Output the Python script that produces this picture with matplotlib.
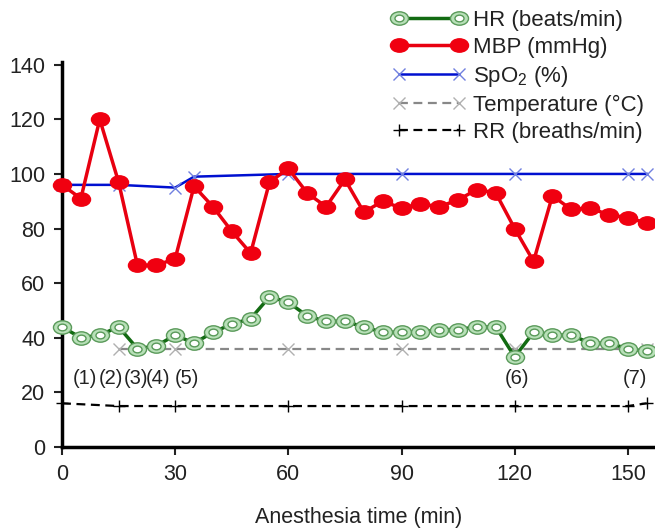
import matplotlib
matplotlib.use("Agg")
import matplotlib.pyplot as plt
from matplotlib.path import Path
from matplotlib.transforms import Affine2D
from matplotlib.legend_handler import HandlerTuple

plt.rcParams['font.family'] = ['Liberation Sans', 'DejaVu Sans']
plt.rcParams['mathtext.fontset'] = 'custom'
plt.rcParams['mathtext.rm'] = 'Liberation Sans'

# ---- data ----
time = [0, 5, 10, 15, 20, 25, 30, 35, 40, 45, 50, 55, 60, 65, 70, 75, 80, 85, 90,
        95, 100, 105, 110, 115, 120, 125, 130, 135, 140, 145, 150, 155]
hr = [44, 40, 41, 44, 36, 37, 41, 38, 42, 45, 47, 55, 53, 48, 46, 46, 44, 42, 42,
      42, 43, 43, 44, 44, 33, 42, 41, 41, 38, 38, 36, 35]
mbp = [96, 91, 120, 97, 66.5, 66.5, 69, 95.5, 88, 79, 71, 97, 102, 93, 88, 98, 86, 90, 87.5,
       89, 88, 90.5, 94.3, 93, 80, 68, 92, 87, 87.5, 85, 84, 82]
spo2_t = [0, 15, 30, 35, 60, 90, 120, 150, 155]
spo2 = [96, 96, 95, 99, 100, 100, 100, 100, 100]
temp_t = [15, 30, 60, 90, 120, 155]
temp = [36, 36, 36, 36, 36, 36]
rr_t = [0, 15, 30, 60, 90, 120, 150, 155]
rr = [16, 15, 15, 15, 15, 15, 15, 16]
events = ['(1)', '(2)', '(3)', '(4)', '(5)', '(6)', '(7)']
event_x = [6, 13, 19.5, 25.5, 33, 120.5, 152]
event_y = 25
xticks = [0, 30, 60, 90, 120, 150]
yticks = [0, 20, 40, 60, 80, 100, 120, 140]

# ---- style ----
ell = Path.unit_circle().transformed(Affine2D().scale(1.35, 1.0))

fig = plt.figure(figsize=(6.55, 5.28), dpi=100)
ax = fig.add_axes([0.0947, 0.1534, 0.9053, 0.8826 - 0.1534])

l_rr, = ax.plot(rr_t, rr, color='black', lw=1.6, ls=(0, (4, 2.5)), marker='+', ms=8,
                mew=1.0, clip_on=False, zorder=2)
l_temp, = ax.plot(temp_t, temp, color='#888888', lw=1.6, ls=(0, (4, 2.5)), marker='x', ms=8,
                  mec='#b0b0b0', mew=1.0, clip_on=False, zorder=2)
l_spo2, = ax.plot(spo2_t, spo2, color='#0010d0', lw=1.8, marker='x', ms=8,
                  mec='#7080e0', mew=1.0, clip_on=False, zorder=3)
l_mbp, = ax.plot(time, mbp, color='#e80010', lw=2.5, marker=ell, ms=13,
                 mfc='#f00010', mec='#f00010', clip_on=False, zorder=4)
l_hr, = ax.plot(time, hr, color='#126b12', lw=2.5, marker=ell, ms=13,
                mfc='#b8e0b8', mec='#5a9a5a', mew=1.0, clip_on=False, zorder=5)
l_hr2, = ax.plot(time, hr, ls='none', marker=ell, ms=6.5,
                 mfc='white', mec='#5a9a5a', mew=1.0, clip_on=False, zorder=6)

for lab, ex in zip(events, event_x):
    ax.text(ex, event_y, lab, ha='center', va='center', fontsize=14.5, color='#222222')

ax.set_xlim(0, 157.2)
ax.set_ylim(0, 141)
ax.set_xticks(xticks)
ax.set_yticks(yticks)
ax.tick_params(labelsize=15.5, length=6, width=1.5, colors='#222222', pad=6)
for s in ['top', 'right']:
    ax.spines[s].set_visible(False)
for s in ['left', 'bottom']:
    ax.spines[s].set_linewidth(2.5)
    ax.spines[s].set_color('black')
ax.set_xlabel('Anesthesia time (min)', fontsize=15.5, color='#222222', labelpad=16)

handles = [(l_hr, l_hr2), l_mbp, l_spo2, l_temp, l_rr]
labels = ['HR (beats/min)', 'MBP (mmHg)', 'SpO$_2$ (%)', 'Temperature (°C)', 'RR (breaths/min)']
leg = fig.legend(handles, labels, loc='upper left', bbox_to_anchor=(0.585, 0.998),
                 frameon=False, fontsize=16, handlelength=3.3, handletextpad=0.35,
                 labelspacing=0.27, numpoints=2, borderaxespad=0,
                 handler_map={tuple: HandlerTuple(ndivide=1)})
for t in leg.get_texts():
    t.set_color('#222222')

fig.savefig('out.png', dpi=100)
